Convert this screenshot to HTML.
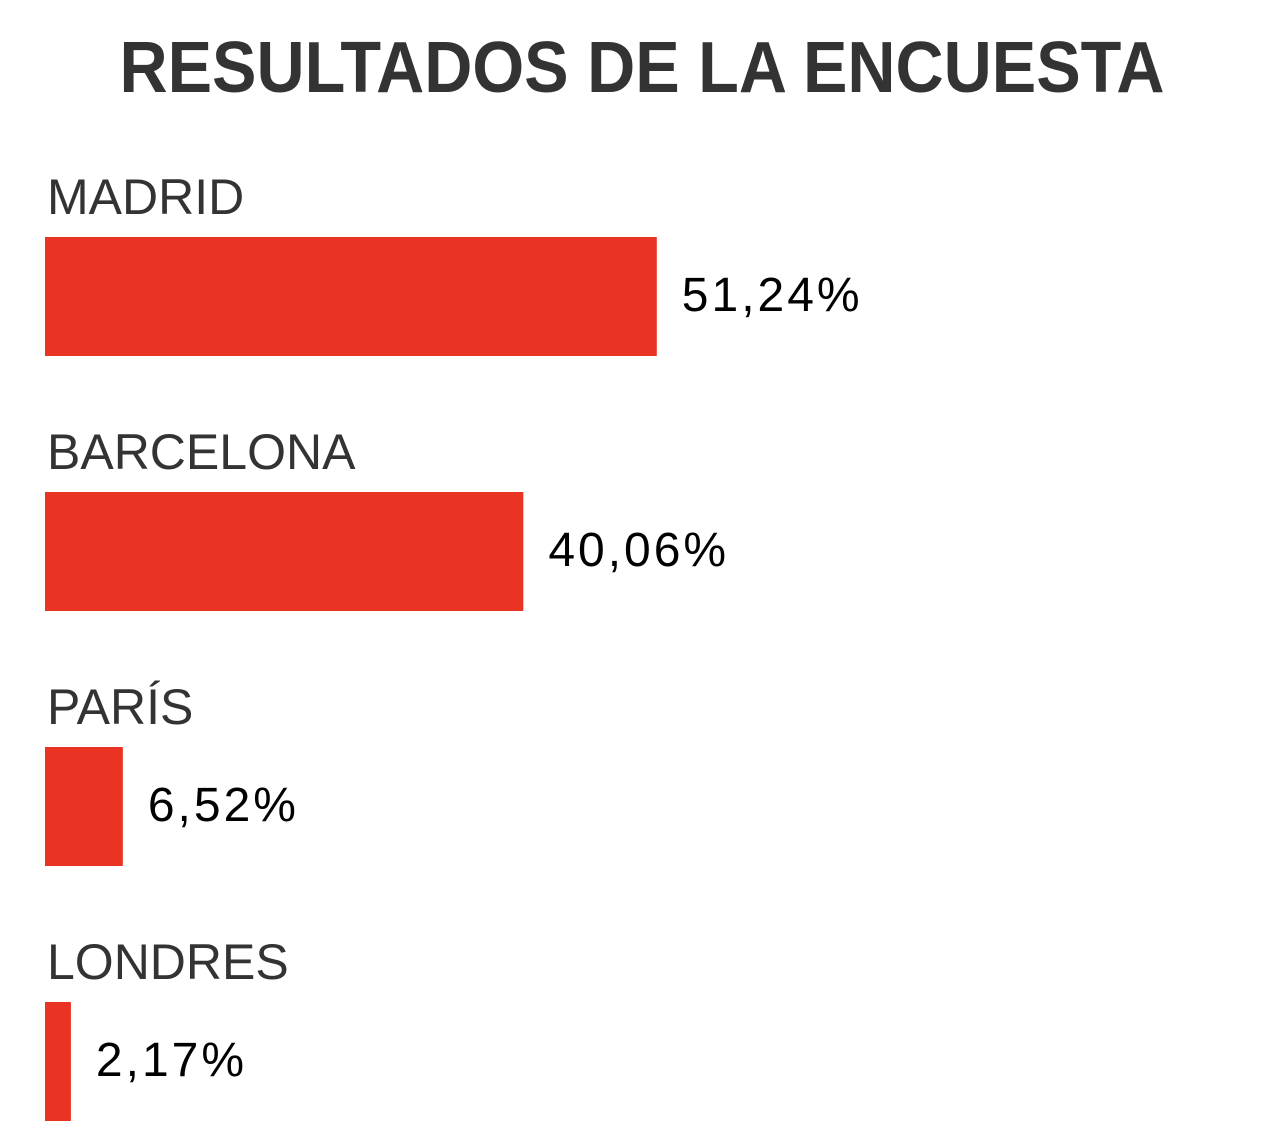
<!DOCTYPE html>
<html><head><meta charset="utf-8"><style>
html,body{margin:0;padding:0;background:#fff;}
svg{display:block;font-family:"Liberation Sans",sans-serif;}
</style></head><body>
<svg id="chart" width="1284" height="1142" viewBox="0 0 1284 1142">
<text x="642" y="92" text-anchor="middle" font-size="72" font-weight="bold" fill="#333" textLength="1045" lengthAdjust="spacingAndGlyphs">RESULTADOS DE LA ENCUESTA</text>
<g id="bars"></g>
</svg>
<script>
const categories = ["MADRID","BARCELONA","PARÍS","LONDRES"];
const values = [51.24, 40.06, 6.52, 2.17];
const valueLabels = ["51,24%","40,06%","6,52%","2,17%"];
const x0 = 45, pxPer = 11.94, top0 = 237, step = 255, barH = 119;
function xScale(v){ return v * pxPer; }
function yPos(i){ return top0 + i * step; }
const g = document.getElementById('bars');
const ns = "http://www.w3.org/2000/svg";
categories.forEach((c,i)=>{
  const y = yPos(i);
  const lab = document.createElementNS(ns,'text');
  
  
  lab.setAttribute('x',47); lab.setAttribute('y',y-23);
  lab.setAttribute('font-size','50'); lab.setAttribute('fill','#333');
  lab.textContent = c; g.appendChild(lab);
  const r = document.createElementNS(ns,'rect');
  
  
  r.setAttribute('x',x0); r.setAttribute('y',y);
  r.setAttribute('width',xScale(values[i])); r.setAttribute('height',barH);
  r.setAttribute('fill','#e93424'); g.appendChild(r);
  const v = document.createElementNS(ns,'text');
  
  
  v.setAttribute('x',x0+xScale(values[i])+25); v.setAttribute('y',y+74);
  v.setAttribute('font-size','48'); v.setAttribute('fill','#000');
  v.setAttribute('letter-spacing','3');
  v.textContent = valueLabels[i]; g.appendChild(v);
});
</script>
</body></html>
